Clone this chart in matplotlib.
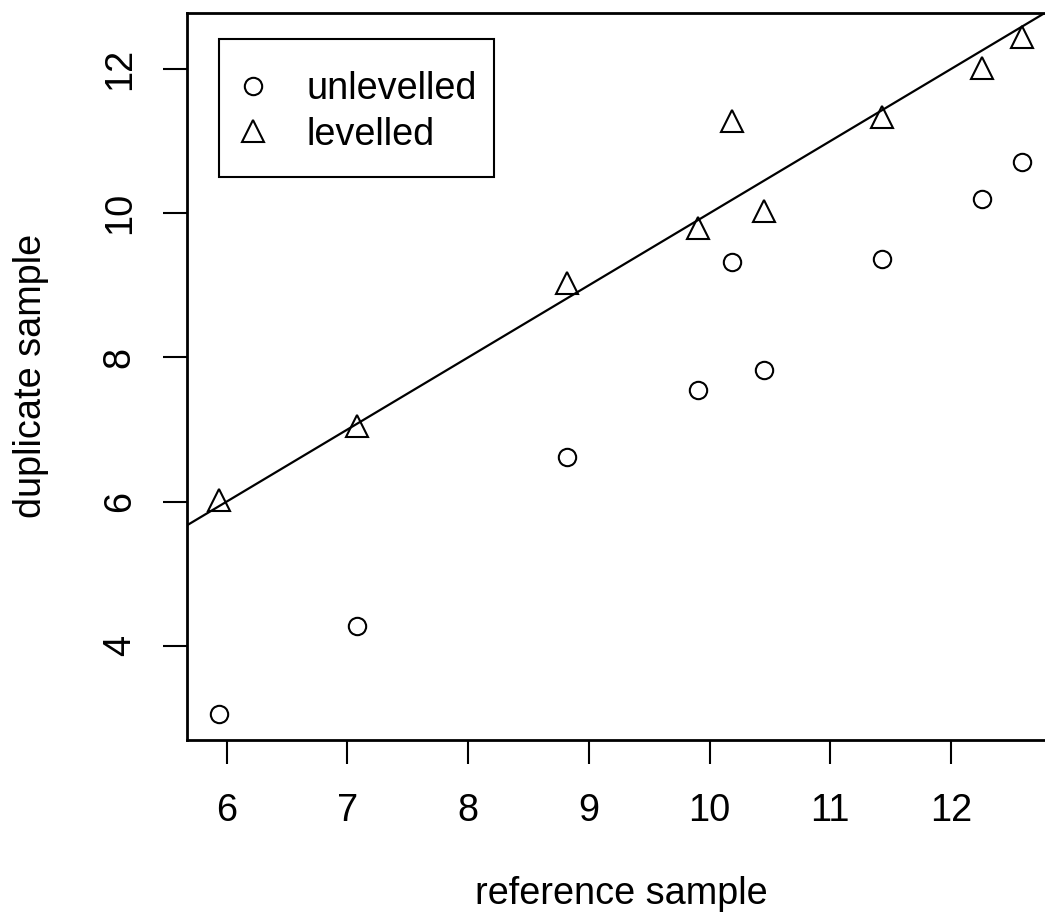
import matplotlib
matplotlib.use("Agg")
import matplotlib.pyplot as plt
from matplotlib.patches import Rectangle

plt.rcParams['font.family'] = ['Liberation Sans', 'DejaVu Sans']

# reference sample (x) and the two duplicate versions (y)
reference = [5.94, 7.08, 8.82, 9.905, 10.19, 10.455, 11.43, 12.26, 12.59]
unlevelled = [3.06, 4.275, 6.62, 7.55, 9.32, 7.82, 9.365, 10.19, 10.71]
levelled = [6.02, 7.05, 9.03, 9.80, 11.28, 10.03, 11.33, 12.01, 12.45]

x_ticks = [6, 7, 8, 9, 10, 11, 12]
y_ticks = [4, 6, 8, 10, 12]

FS = 27.3
W, H = 1045, 922
fig = plt.figure(figsize=(W / 100, H / 100), dpi=100)
# axes box: left 187px, top 12.7px, bottom 740px, right runs off the image
ax_w, ax_h = 869, 740 - 12.7
ax = fig.add_axes([187 / W, 1 - 740 / H, ax_w / W, ax_h / H])

ax.plot(reference, unlevelled, linestyle='none', marker='o', markersize=12.5,
        markerfacecolor='none', markeredgecolor='black', markeredgewidth=1.5,
        label='unlevelled')
ax.plot(reference, levelled, linestyle='none', marker='^', markersize=16,
        markerfacecolor='none', markeredgecolor='black', markeredgewidth=1.5,
        label='levelled')

# 1:1 line
ax.axline((0, 0), slope=1, color='black', linewidth=1.6)

ax.set_xlim(5.671, 12.87)
ax.set_ylim(2.693, 12.781)
ax.set_xticks(x_ticks)
ax.set_yticks(y_ticks)
ax.set_xticklabels([str(t) for t in x_ticks])
ax.set_yticklabels([str(t) for t in y_ticks], rotation=90, va='center')
ax.tick_params(axis='x', direction='out', length=17, width=1.5,
               labelsize=FS, pad=21)
ax.tick_params(axis='y', direction='out', length=17, width=1.5,
               labelsize=FS, pad=18.5)
for sp in ax.spines.values():
    sp.set_linewidth(2)

fig.text(621 / W, 1 - 904 / H, 'reference sample', fontsize=FS,
         ha='center', va='baseline')
fig.text(13 / W, 1 - 376 / H, 'duplicate sample', fontsize=FS,
         rotation=90, ha='left', va='center')

# legend entries without frame, box drawn separately (R-style)
leg = ax.legend(loc='upper left', bbox_to_anchor=((243.5 - 187) / ax_w, (740 - 71.5) / ax_h),
                borderaxespad=0, fontsize=FS, frameon=False, borderpad=0,
                labelspacing=0.24, handlelength=0.5, handletextpad=1.17)
ax.add_patch(Rectangle(((219 - 187) / ax_w, (740 - 177) / ax_h), 275 / ax_w, 138 / ax_h,
                       transform=ax.transAxes, fill=False, edgecolor='black',
                       linewidth=1.5, zorder=5))

fig.savefig('out.png', dpi=100)
